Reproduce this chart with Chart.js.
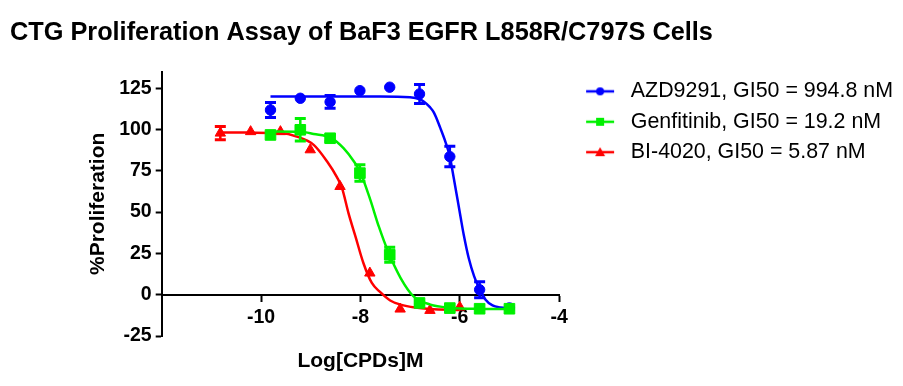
<!DOCTYPE html>
<html>
<head>
<meta charset="utf-8">
<script src="https://cdn.jsdelivr.net/npm/chart.js@4.4.1/dist/chart.umd.min.js"></script>
<style>
  html, body { margin: 0; padding: 0; background: #fff; }
</style>
</head>
<body>
<canvas id="ctgChart" width="903" height="386"></canvas>
<script>
// CTG proliferation - BaF3 EGFR L858R/C797S
// x = log[M], y = % proliferation (mean, error = half bar height)

const seriesNames = ['AZD9291, GI50 = 994.8 nM', 'Genfitinib, GI50 = 19.2 nM', 'BI-4020, GI50 = 5.87 nM'];

const azdX = [-9.81, -9.21, -8.61, -8.01, -7.41, -6.81, -6.2, -5.6, -5.0];
const azdY = [111.8, 118.9, 116.7, 123.5, 125.6, 121.5, 83.6, 3.0, -8.0];
const azdErr = [4.5, 0, 3.8, 0, 0, 5.7, 6.2, 4.8, 0];

const gefX = [-9.81, -9.21, -8.61, -8.01, -7.41, -6.81, -6.2, -5.6, -5.0];
const gefY = [96.7, 99.8, 94.7, 73.6, 24.2, -5.0, -8.1, -8.5, -8.5];
const gefErr = [0, 6.8, 2, 5, 4.5, 1, 0, 0, 0];

const biX = [-10.82, -10.21, -9.61, -9.01, -8.41, -7.81, -7.2, -6.6, -6.0];
const biY = [97.8, 98.7, 98.7, 87.7, 65.5, 13.1, -8.7, -9.5, -7.5];
const biErr = [4, 0, 0, 0, 0, 0, 0, 0, 0];

// fitted curves
const azdFitX = [-9.81, -7.6, -7.0, -6.8, -6.72, -6.6, -6.52, -6.39, -6.29, -6.2, -6.12, -6.05, -5.98, -5.92, -5.82, -5.71, -5.61, -5.48, -5.34, -5.18, -5.0];
const azdFitY = [119.9, 119.9, 119.5, 118.2, 116.8, 113.5, 110.2, 100.8, 92.7, 83.6, 70.5, 58.5, 46.4, 36.3, 22.2, 11.1, 4.0, -3.0, -6.5, -7.7, -8.2];

const gefFitX = [-9.81, -9.2, -8.94, -8.6, -8.34, -8.13, -8.0, -7.8, -7.63, -7.43, -7.19, -6.93, -6.59, -6.2, -5.6, -5.0];
const gefFitY = [98.8, 98.6, 97.3, 95.1, 88.7, 80.6, 74.0, 57.4, 41.3, 25.2, 10.1, -1.0, -6.0, -7.9, -8.6, -8.7];

const biFitX = [-10.82, -10.2, -9.61, -9.28, -8.94, -8.67, -8.47, -8.37, -8.24, -8.1, -7.94, -7.77, -7.6, -7.4, -7.19, -6.9, -6.6, -6.0];
const biFitY = [98.2, 98.1, 97.8, 95.7, 90.7, 80.6, 71.0, 64.5, 49.4, 35.3, 19.2, 7.1, 1.5, -3.5, -6.0, -7.8, -8.7, -9.3];

const xTicks = [-10, -8, -6, -4];
const yTicks = [-25, 0, 25, 50, 75, 100, 125];

const BLUE = '#0000ff', GREEN = '#00f000', RED = '#ff0000';
const FONT = '"Liberation Sans", Arial, sans-serif';

const pts = (xs, ys) => xs.map((x, i) => ({ x: x, y: ys[i] }));

// legend icon: short line with the marker in the middle
function legendIcon(color, shape) {
  const c = document.createElement('canvas');
  c.width = 52; c.height = 14;
  const g = c.getContext('2d');
  g.strokeStyle = color; g.fillStyle = color; g.lineWidth = 2.5;
  g.beginPath(); g.moveTo(18, 7); g.lineTo(46, 7); g.stroke();
  g.beginPath();
  if (shape === 'circle') {
    g.arc(32, 7, 4, 0, Math.PI * 2);
  } else if (shape === 'rect') {
    g.rect(28, 3, 8, 8);
  } else {
    g.moveTo(32, 2); g.lineTo(37, 11); g.lineTo(27, 11); g.closePath();
  }
  g.fill();
  return c;
}
const legendIcons = [legendIcon(BLUE, 'circle'), legendIcon(GREEN, 'rect'), legendIcon(RED, 'triangle')];
const legendColors = [BLUE, GREEN, RED];

const errMap = { 0: azdErr, 1: gefErr, 2: biErr };

const errorBars = {
  id: 'errorBars',
  afterDatasetDraw(chart, args) {
    const errs = errMap[args.index];
    if (!errs) return;
    const ctx = chart.ctx;
    const yScale = chart.scales.y;
    const ds = chart.data.datasets[args.index];
    ctx.save();
    ctx.strokeStyle = ds.borderColor;
    args.meta.data.forEach((p, i) => {
      const e = errs[i];
      if (!e) return;
      const v = ds.data[i].y;
      const top = yScale.getPixelForValue(v + e);
      const bot = yScale.getPixelForValue(v - e);
      ctx.lineWidth = 2.5;
      ctx.beginPath();
      ctx.moveTo(p.x, top); ctx.lineTo(p.x, bot);
      ctx.stroke();
      ctx.lineWidth = 3;
      ctx.beginPath();
      ctx.moveTo(p.x - 5.5, top); ctx.lineTo(p.x + 5.5, top);
      ctx.moveTo(p.x - 5.5, bot); ctx.lineTo(p.x + 5.5, bot);
      ctx.stroke();
    });
    ctx.restore();
  }
};

const axisGrid = {
  drawOnChartArea: false,
  drawTicks: true,
  tickLength: 6,
  tickWidth: 2,
  tickColor: '#000'
};

const ctx = document.getElementById('ctgChart');
const ctgChart = new Chart(ctx, {
  type: 'scatter',
  data: {
    datasets: [
      { label: seriesNames[0], data: pts(azdX, azdY), borderColor: BLUE, backgroundColor: BLUE,
        pointStyle: 'circle', pointRadius: 5.2, borderWidth: 1, showLine: false, order: 5 },
      { label: seriesNames[1], data: pts(gefX, gefY), borderColor: GREEN, backgroundColor: GREEN,
        pointStyle: 'rect', pointRadius: 7.5, borderWidth: 1, showLine: false, order: 1 },
      { label: seriesNames[2], data: pts(biX, biY), borderColor: RED, backgroundColor: RED,
        pointStyle: 'triangle', pointRadius: 6, borderWidth: 1, showLine: false, order: 3 },
      { label: 'azd fit', data: pts(azdFitX, azdFitY), borderColor: BLUE, borderWidth: 2.5,
        pointRadius: 0, showLine: true, cubicInterpolationMode: 'monotone', order: 6 },
      { label: 'gef fit', data: pts(gefFitX, gefFitY), borderColor: GREEN, borderWidth: 2.5,
        pointRadius: 0, showLine: true, cubicInterpolationMode: 'monotone', order: 2 },
      { label: 'bi fit', data: pts(biFitX, biFitY), borderColor: RED, borderWidth: 2.5,
        pointRadius: 0, showLine: true, cubicInterpolationMode: 'monotone', order: 4 }
    ]
  },
  options: {
    responsive: false,
    animation: false,
    layout: { padding: { left: 10, right: 0, top: 0, bottom: 50 } },
    scales: {
      x: {
        type: 'linear',
        position: { y: 0 },
        min: -12,
        max: -4,
        afterBuildTicks: (s) => { s.ticks = xTicks.map(v => ({ value: v })); },
        ticks: { color: '#000', padding: 5.6, font: { family: FONT, size: 19.5, weight: 'bold' } },
        grid: axisGrid,
        border: { color: '#000', width: 2 },
        title: {
          display: true, text: 'Log[CPDs]M', color: '#000',
          font: { family: FONT, size: 21, weight: 'bold' },
          padding: { top: 13.5, bottom: 0 }
        }
      },
      y: {
        type: 'linear',
        position: 'left',
        min: -25,
        max: 135,
        afterBuildTicks: (s) => { s.ticks = yTicks.map(v => ({ value: v })); },
        afterFit: (s) => { s.width = 151.7; },
        ticks: { color: '#000', padding: 4, font: { family: FONT, size: 19.5, weight: 'bold' } },
        grid: axisGrid,
        border: { color: '#000', width: 2 },
        title: {
          display: true, text: '%Proliferation', color: '#000',
          font: { family: FONT, size: 21, weight: 'bold' },
          padding: { top: 75.4, bottom: 0 }
        }
      }
    },
    plugins: {
      title: {
        display: true,
        text: 'CTG Proliferation Assay of BaF3 EGFR L858R/C797S Cells',
        align: 'start',
        color: '#000',
        font: { family: FONT, size: 25.3, weight: 'bold' },
        padding: { top: 17.8, bottom: 23.5 }
      },
      legend: {
        display: true,
        position: 'right',
        align: 'start',
        fullSize: false,
        maxWidth: 344.7,
        labels: {
          usePointStyle: true,
          pointStyleWidth: 52,
          padding: 9,
          color: '#000',
          font: { family: FONT, size: 21.4 },
          generateLabels: () => seriesNames.map((text, i) => ({
            text: text,
            pointStyle: legendIcons[i],
            fillStyle: legendColors[i],
            strokeStyle: legendColors[i],
            lineWidth: 0,
            hidden: false,
            datasetIndex: i
          }))
        }
      },
      tooltip: { enabled: false }
    }
  },
  plugins: [errorBars]
});
</script>
</body>
</html>
